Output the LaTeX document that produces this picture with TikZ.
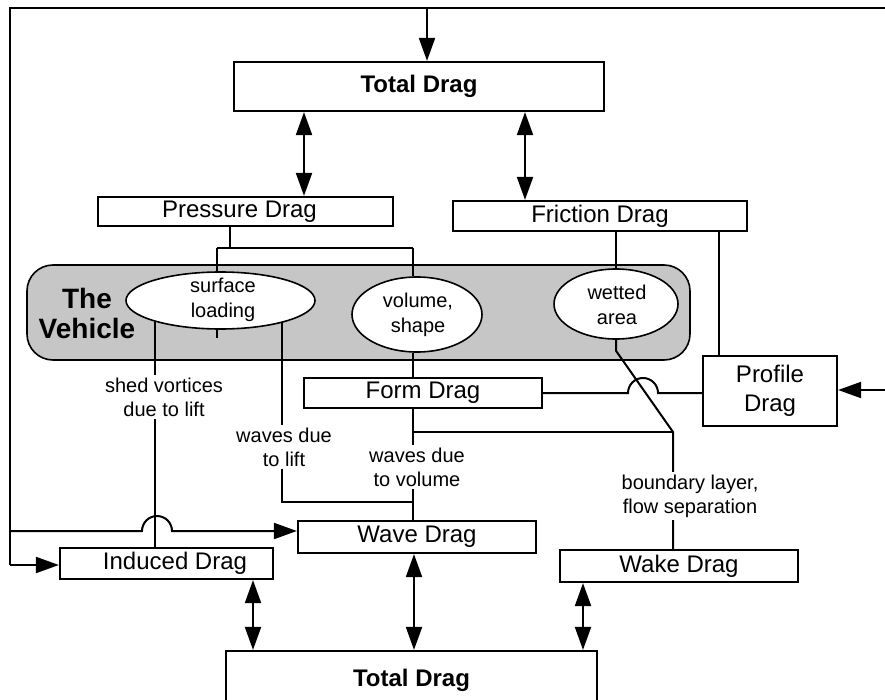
\documentclass[tikz,border=0pt]{standalone}
\usepackage{fontspec}
\setmainfont{Liberation Sans}
\usetikzlibrary{arrows.meta,shapes.geometric}
\definecolor{vgray}{RGB}{198,198,198}
\begin{document}
\begin{tikzpicture}[x=1pt,y=-1pt,
  box/.style={draw,line width=2.2pt,fill=white,inner sep=0pt,align=center,font=\fontsize{24}{29}\selectfont},
  tbox/.style={box,font=\fontsize{24}{29}\selectfont\bfseries},
  oval/.style={draw,ellipse,line width=1.6pt,fill=white,inner sep=0pt},
  ovt/.style={inner sep=0pt,align=center,font=\fontsize{20}{24.5}\selectfont},
  conn/.style={line width=2pt},
  arr/.style={conn,-{Triangle[length=23pt,width=16pt]}},
  darr/.style={conn,{Triangle[length=23pt,width=16pt]}-{Triangle[length=23pt,width=16pt]}},
  elabel/.style={fill=white,inner sep=2.5pt,align=center,font=\fontsize{20}{24}\selectfont}
]
\useasboundingbox (0,0) rectangle (885,700);
\clip (0,0) rectangle (885,700);
\fill[white] (0,0) rectangle (885,700);

% boxes
\node[tbox,minimum width=370pt,minimum height=49pt] (tt) at (419,86.5) {Total Drag};
\node[box,minimum width=295pt,minimum height=29pt] (pd) at (245.5,211.5) {\hspace*{-12pt}Pressure Drag};
\node[box,minimum width=294pt,minimum height=30pt] (fr) at (600,216) {Friction Drag};
\node[draw,line width=1.6pt,fill=vgray,rounded corners=26pt,minimum width=663pt,minimum height=95pt] (veh) at (358.5,312.5) {};
\node[font=\fontsize{28}{30}\selectfont\bfseries,align=center] (vt) at (87,313) {The\\Vehicle};
\node[oval,minimum width=189pt,minimum height=57pt] (sl) at (220.5,300.5) {};
\node[ovt] (slt) at (223,300) {surface\\loading};
\node[oval,minimum width=130pt,minimum height=75pt] (vs) at (417,314.5) {};
\node[ovt] (vst) at (418,315) {volume,\\shape};
\node[oval,minimum width=124pt,minimum height=70pt] (wa) at (616,304) {};
\node[ovt] (wat) at (617,305) {wetted\\area};
\node[box,minimum width=238pt,minimum height=30pt] (fd) at (423,393) {Form Drag};
\node[box,minimum width=134pt,minimum height=70pt] (pf) at (770,391) {Profile\\Drag};
\node[box,minimum width=238pt,minimum height=32pt] (wv) at (417,537) {Wave Drag};
\node[box,minimum width=213pt,minimum height=31pt] (ind) at (166.5,563.5) {\hspace*{17pt}Induced Drag};
\node[box,minimum width=238pt,minimum height=32pt] (wk) at (679,566) {Wake Drag};
\node[tbox,minimum width=371pt,minimum height=58pt] (tb) at (411.5,680) {\raisebox{2pt}{Total Drag}};

% coordinates
\coordinate (cP) at (230,248);
\coordinate (cA) at (217,248);
\coordinate (cB) at (413,248);
\coordinate (cF) at (413,432);
\coordinate (cW) at (413,502);
\coordinate (cD) at (673,432);
\coordinate (cQ) at (719,0);
\coordinate (sv) at (sl.198.4);
\coordinate (wl) at (sl.340.6);
\coordinate (rin) at (885,390);
\coordinate (fTR) at (885,8);
\coordinate (fTL) at (10,8);
\coordinate (fBL) at (10,565);
\coordinate (fH) at (10,531);
\coordinate (fT) at (427,8);
\coordinate (d1) at (304,0);
\coordinate (d2) at (525,0);
\coordinate (d3) at (253,0);
\coordinate (d4) at (414,0);
\coordinate (d5) at (583,0);

% connectors
\draw[conn] (pd.south -| cP) -- (cP);
\draw[conn] (cA) -- (cB);
\draw[conn] (cA) -- (sl.north -| cA);
\draw[conn] (cB) -- (vs.north -| cB);
\draw[conn] (sl.south -| cA) -- ++(0,8);
\draw[conn] (vs.south -| cB) -- (fd.north -| cB);
\draw[conn] (fd.south -| cF) -- (wv.north -| cF);
\draw[conn] (cF) -- (cD);
\draw[conn] (wl) |- (cW);
\draw[conn] (sv) -- (ind.north -| sv);
\draw[conn] (fr.south -| wa.north) -- (wa.north);
\draw[conn] (wa.south) -- ++(0,11) -- (cD) -- (wk.north -| cD);
\draw[conn] (fr.south -| cQ) -- (pf.north -| cQ);
\draw[conn] (fd.east) -- (628,393) arc[start angle=180,end angle=0,radius=15pt] -- (pf.west |- fd.east);
\draw[arr] (rin) -- (pf.east |- rin);
\draw[conn,line join=miter] (fTR) -- (fTL) -- (fBL);
\draw[arr] (fBL) -- (ind.west |- fBL);
\draw[arr] (fT) -- (tt.north -| fT);
\draw[arr] (fH) -- (142,531) arc[start angle=180,end angle=0,radius=15pt] -- (wv.west |- fH);
\draw[darr] (tt.south -| d1) -- (pd.north -| d1);
\draw[darr] (tt.south -| d2) -- (fr.north -| d2);
\draw[darr] (ind.south -| d3) -- (tb.north -| d3);
\draw[darr] (wv.south -| d4) -- (tb.north -| d4);
\draw[darr] (wk.south -| d5) -- (tb.north -| d5);

% connector labels
\node[elabel] (lsv) at (164,397) {shed vortices\\due to lift};
\node[elabel] (lwl) at (284,447) {waves due\\to lift};
\node[elabel] (lwv) at (417,467) {waves due\\to volume};
\node[elabel] (lbd) at (690,496) {boundary layer,\\flow separation};
\end{tikzpicture}
\end{document}
